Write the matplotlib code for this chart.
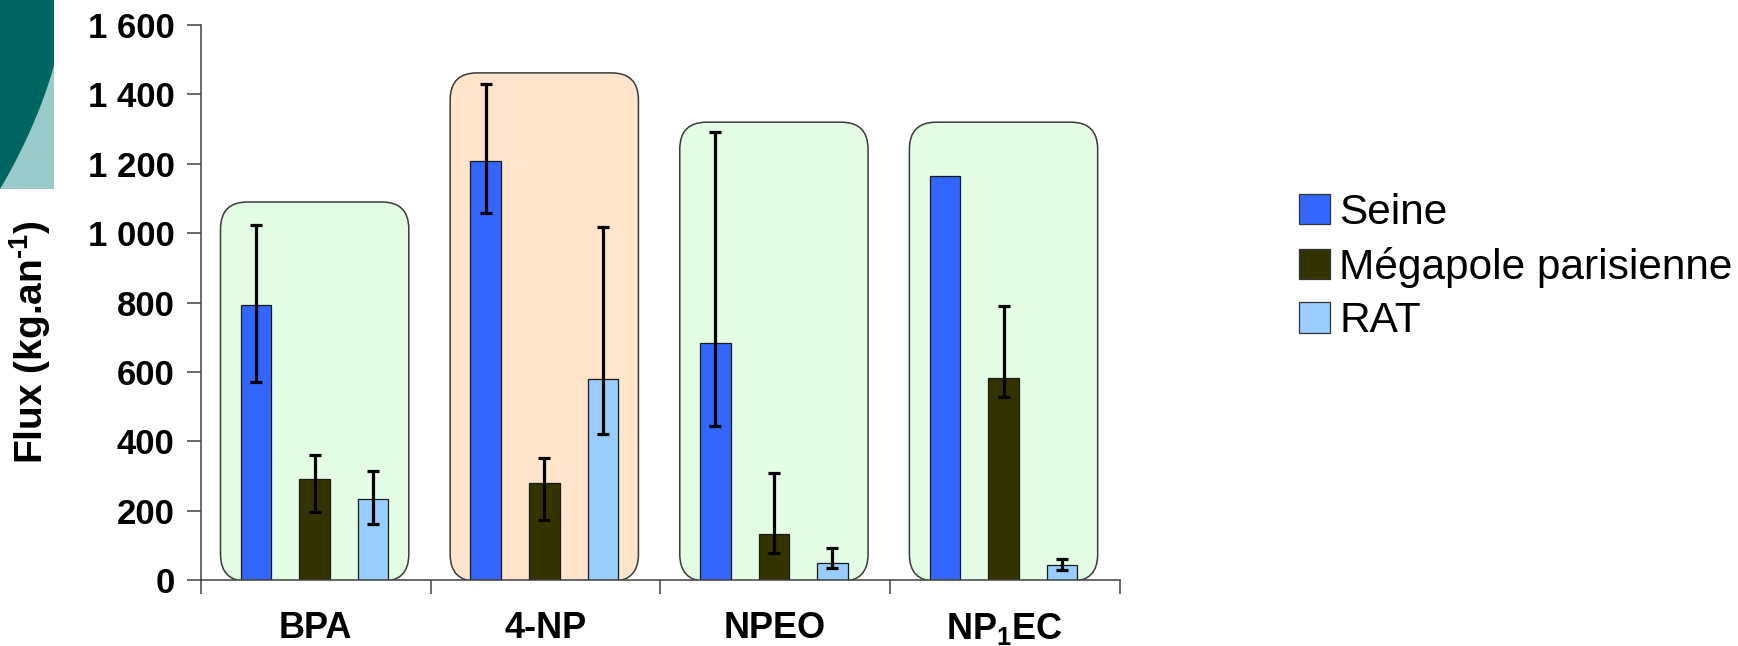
import numpy as np
import matplotlib
matplotlib.use("Agg")
import matplotlib.pyplot as plt
from matplotlib.patches import FancyBboxPatch, Rectangle, PathPatch, Patch
from matplotlib.path import Path
from matplotlib.transforms import Affine2D

plt.rcParams['font.family'] = ['Liberation Sans', 'DejaVu Sans']
plt.rcParams['mathtext.fontset'] = 'custom'
plt.rcParams['mathtext.bf'] = 'Liberation Sans:bold'
plt.rcParams['mathtext.rm'] = 'Liberation Sans:bold'
plt.rcParams['mathtext.default'] = 'bf'

# données
categories = ['BPA', '4-NP', 'NPEO', 'NP$_1$EC']
series = ['Seine', 'Mégapole parisienne', 'RAT']
colors = ['#3366FF', '#333300', '#99CCFF']

seine = [792, 1209, 683, 1166]
seine_lo = [570, 1059, 444, np.nan]
seine_hi = [1024, 1430, 1293, np.nan]

megapole = [292, 279, 134, 584]
megapole_lo = [196, 175, 78, 528]
megapole_hi = [362, 353, 310, 789]

rat = [235, 579, 51, 44]
rat_lo = [161, 422, 34, 30]
rat_hi = [314, 1019, 92, 61]

box_tops = [1090, 1462, 1320, 1320]
box_colors = ['#E3FCE3', '#FDE4CB', '#E3FCE3', '#E3FCE3']

yticks = [0, 200, 400, 600, 800, 1000, 1200, 1400, 1600]
ytick_labels = ['0', '200', '400', '600', '800', '1 000', '1 200', '1 400', '1 600']

W, H = 1738, 646
fig = plt.figure(figsize=(W / 100, H / 100), dpi=100)
ax = fig.add_axes([201 / W, 1 - 580.3 / H, 918.5 / W, 555.3 / H])

x = np.arange(len(categories))

# cadres arrondis derrière chaque groupe
for i in x:
    box = FancyBboxPatch((i - 0.415, -3), 0.82, box_tops[i] + 3,
                         boxstyle="round,pad=0,rounding_size=0.117",
                         mutation_aspect=665, facecolor=box_colors[i],
                         edgecolor='#3a3a3a', linewidth=1.1, zorder=1)
    ax.add_patch(box)

offsets = [-0.26, -0.005, 0.25]
vals = [seine, megapole, rat]
los = [seine_lo, megapole_lo, rat_lo]
his = [seine_hi, megapole_hi, rat_hi]
for k in range(3):
    v = np.array(vals[k], dtype=float)
    lo = np.array(los[k], dtype=float)
    hi = np.array(his[k], dtype=float)
    ax.bar(x + offsets[k], v, width=0.133, color=colors[k],
           edgecolor='#1a1a1a', linewidth=0.9, zorder=2, label=series[k])
    ok = ~np.isnan(lo)
    ax.errorbar((x + offsets[k])[ok], v[ok],
                yerr=[v[ok] - lo[ok], hi[ok] - v[ok]],
                fmt='none', ecolor='black', elinewidth=2.3,
                capsize=4.5, capthick=2.3, zorder=3)

ax.set_xlim(-0.5, 3.5)
ax.set_ylim(0, 1600)
for s in ['top', 'right']:
    ax.spines[s].set_visible(False)
for s in ['left', 'bottom']:
    ax.spines[s].set_color('#404040')
    ax.spines[s].set_linewidth(1.1)
ax.patch.set_alpha(0)

ax.set_yticks(yticks)
ax.set_yticklabels(ytick_labels, fontsize=25, fontweight='bold')
ax.tick_params(axis='y', length=10, width=1.1, color='#404040', pad=9)

ax.set_xticks(x)
ax.set_xticklabels(categories, fontsize=26, fontweight='bold')
ax.set_xticks(np.arange(-0.5, 4, 1), minor=True)
ax.tick_params(axis='x', which='major', length=0, pad=22)
ax.tick_params(axis='x', which='minor', length=10, width=1.1, color='#404040')

fig.text(30 / W, 1 - 342 / H, 'Flux (kg.an$^{\u2010 1}$)', rotation=90,
         ha='center', va='center', fontsize=28, fontweight='bold')

handles = [Patch(facecolor=c, edgecolor='#333333', linewidth=0.9) for c in colors]
fig.legend(handles, series, loc='upper left',
           bbox_to_anchor=(1299 / W, 1 - 193 / H), frameon=False,
           fontsize=30.5, handlelength=0.73, handleheight=0.73,
           handletextpad=0.22, labelspacing=0.32, borderpad=0,
           borderaxespad=0)

# décor en haut à gauche
pix = Affine2D().scale(1 / W, -1 / H).translate(0, 1) + fig.transFigure
fig.patches.append(Rectangle((0, 0), 54, 189, transform=pix,
                             facecolor='#9ACBCB', edgecolor='none'))
verts = [(0, 0), (54, 0), (54, 65), (42, 111), (16, 163), (0, 189), (0, 0)]
codes = [Path.MOVETO, Path.LINETO, Path.LINETO, Path.CURVE4, Path.CURVE4,
         Path.CURVE4, Path.CLOSEPOLY]
fig.patches.append(PathPatch(Path(verts, codes), transform=pix,
                             facecolor='#006661', edgecolor='none'))

fig.savefig('out.png', dpi=100)
